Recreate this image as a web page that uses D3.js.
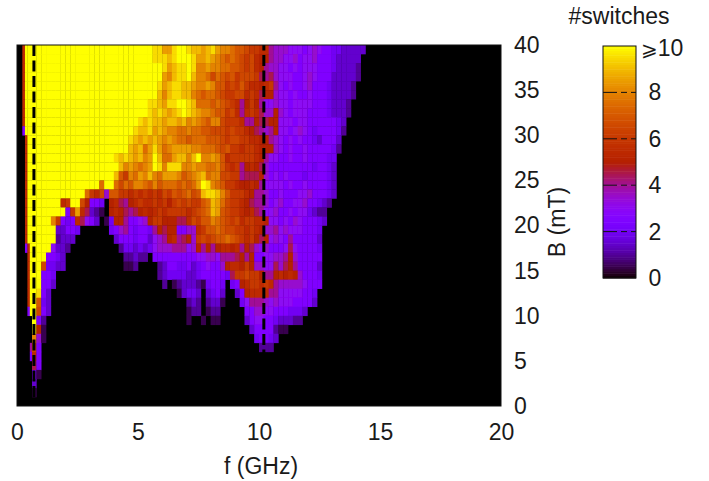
<!DOCTYPE html>
<html>
<head>
<meta charset="utf-8">
<script src="https://cdn.jsdelivr.net/npm/d3@7"></script>
<style>
  html, body { margin: 0; padding: 0; background: #fff; }
  text { font-family: "Liberation Sans", Arial, sans-serif; fill: #1a1a1a; }
</style>
</head>
<body>
<div id="chart"></div>
<script>
// cell values are #switches * 2 written in base 36 (0 = none, k = 10 or more)
// rows go from B = 39-40 mT (top) down to B = 0-1 mT
const z10 = '0000000000';

// the narrow cells below 0.62 GHz
const cellsEdge = [
  '0bkkk','0bkkk','0bkkk','0bkkk','0bkkk','0bkkk','0bkkk','0bkkk','0bkkk','05kkk',
  '00bkk','00bkk','00bkk','00bkk','00bkk','00bkk','00bkk','00bkk','00bkk','00bkk',
  '00bkk','00bkk','005bk','000bk','000bk','000bk','000bk','000bk','000bk','0005k',
  '00000','00000','00000','00008','00005','00000','00000','00000','00000','00000'
];

// 0.62 - 6.4 GHz
const cellsLow = [
  'kkkkkkkkkkkkkkkkkkkkkkkkkjjhh',
  'kkkkkkkkkkkkkkkkkkkkkkkkkjjji',
  'kkkkkkkkkkkkkkkkkkkkkkkkkkkjh',
  'kkkkkkkkkkkkkkkkkkkkkkkkkkkhg',
  'kkkkkkkkkkkkkkkkkkkkkkkkkkjhi',
  'kkkkkkkkkkkkkkkkkkkkkkkkkkigi',
  'kkkkkkkkkkkkkkkkkkkkkkkkjjihj',
  'kkkkkkkkkkkkkkkkkkkkkkkkjijih',
  'kkkkkkkkkkkkkkkkkkkkkkjijiihi',
  'kkkkkkkkkkkkkkkkkkkkkjiijhihg',
  'kkkkkkkkkkkkkkkkkkkkjihihihgh',
  'kkkkkkkkkkkkkkkkkkkkihifhjhfg',
  'kkkkkkkkkkkkkkkkkjijihighkiff',
  'kkkkkkkkkkkkkkkkkkighgfghkjgj',
  'kkkkkkkkkkkkkkkkkiecgfhgigfhh',
  'kkkkkkkkkkkkkkfkkfdfeggfegeff',
  'kkkkkkkkkkkfcbd7eeccbcbcbcbdc',
  'kkkkkkbckkda5540ab98abcbbcbca',
  'kkkkkkk5chb93210aba989ababcbc',
  'kkkkgc545b9653014aa85567accaa',
  'kkkkk33554' + '000000' + '4578545548a9a',
  'kkkkk2333' + '00000000' + '35554553678a',
  'kkkk6332' + z10 + '24434346777',
  'kkk5543' + z10 + '00' + '2232205555',
  'kkd4433' + z10 + '00' + '1120000235',
  'kk554' + z10 + z10 + '0' + '234',
  'kk553' + z10 + z10 + '00' + '20',
  'kj53',
  'ke43',
  'kd53',
  'k52',
  'ka1',
  'g71',
  'd5',
  'b5',
  '95',
  '51',
  '3',
  '1',
  ''
];

// 6.4 - 10.4 GHz
const cellsMid = [
  'jkkjiihijhggfeedccbb','jkkkjhhihgfefedcdbaa','ijjkjgghggffeedcdba8','ijjkiggfdfedecdddc98',
  'jjiihgghgeecdcecbbab','jjiigfeffedccddbcb9a','jkkjifffefedcb8aca86','ijkjihggfeecdb8bcb97',
  'ihighgfeggdcccb88a99','gffgffeedddcdccba987','gffefffeeedcddccbbaa','hhhhggfffedeccbccbaa',
  'hiigikgghgebcccccba8','jjgghggffgecbc8aba97','hgefghifggddcc8999a7','fefefhkjgfeccbaaba86',
  'edefdeijjigecccba887','cdcdccefihfdccba9887','cccbcdefihedccbab986','a99bdceegfedcdbccbba',
  'a5577bceefeddccbcba7','b89a7cdcdeefedcbca9a','88867a8a8abbab8a9767','55555667768889a8a556',
  '54453456557abbaca776','4443345555549ccdcca8','12333214554045abccbc','013443034530035abbbb',
  '00023202331000468887','00012201220000055776','00010010110000035665','00000000000000003555',
  '00000000000000000455','00000000000000000022','','','','','',''
];

// 10.4 - 14.4 GHz
const cellsHigh = [
  '87776665676554433333','8776675667555433333','7766565666555433332','9766655676555333332',
  'c86565567555433332','a76656556555433332','67665666655543332','7a765666555543332',
  'aa66656655555543','8a66567654555542','876565655435553','a76565565555542',
  '66556556555544','55555555545543','56565554555543','66656556555543',
  '55655566755543','5675566755432','675565664322','665657655543',
  '78676665554','67658555553','55569655554','6778a755555',
  '6979a855553','8ababa75554','b8777776555','8866666554',
  '6766655553','65554443','5433322','5211',
  '43','2','','','','','',''
];

const fTicks = [0, 5, 10, 15, 20];
const bTicks = [0, 5, 10, 15, 20, 25, 30, 35, 40];
const countTicks = [0, 2, 4, 6, 8, 10];
const markerFreqs = [0.7, 10.2];
const markerDashOffsets = [0, 5.5];

const width = 709;
const height = 481;
const plot = { left: 17, right: 501, top: 45, bottom: 406 };
const bar = { left: 603, right: 636, top: 46, bottom: 278 };
const fontSize = '23px';

// cell edges in GHz, narrow near zero then 0.2 GHz steps
const fEdges = [0, 0.22, 0.33, 0.43, 0.53, 0.62, ...d3.range(0.8, 20.01, 0.2)];

const x = d3.scaleLinear().domain([0, 20]).range([plot.left, plot.right]);
const y = d3.scaleLinear().domain([0, 40]).range([plot.bottom, plot.top]);
const yBar = d3.scaleLinear().domain([0, 10]).range([bar.bottom, bar.top]);

// gnuplot default palette (rgbformulae 7,5,15)
function palette(t) {
  const r = Math.sqrt(t);
  const g = t * t * t;
  const b = Math.max(Math.sin(2 * Math.PI * t), 0);
  return d3.rgb(r * 255, g * 255, b * 255).formatHex();
}
const color = d3.scaleSequential([0, 10], palette);

const svg = d3.select('#chart').append('svg')
  .attr('width', width)
  .attr('height', height)
  .style('display', 'block');

const defs = svg.append('defs');
defs.append('clipPath').attr('id', 'plot-clip')
  .append('rect')
  .attr('x', x(0))
  .attr('y', y(40))
  .attr('width', x(20) - x(0))
  .attr('height', y(0) - y(40));
defs.append('filter').attr('id', 'soft')
  .append('feGaussianBlur')
  .attr('stdDeviation', 0.55);

svg.append('rect')
  .attr('x', x(0))
  .attr('y', y(40))
  .attr('width', x(20) - x(0))
  .attr('height', y(0) - y(40))
  .attr('fill', '#000');

const cells = [];
cellsEdge.forEach((edge, j) => {
  const row = edge + cellsLow[j].padEnd(29, '0') + cellsMid[j].padEnd(20, '0') + cellsHigh[j];
  row.split('').forEach((c, i) => {
    cells.push({ i: i, b: 39 - j, v: parseInt(c, 36) / 2 });
  });
});

svg.append('g')
  .attr('clip-path', 'url(#plot-clip)')
  .append('g')
  .attr('filter', 'url(#soft)')
  .selectAll('rect')
  .data(cells.filter((d) => d.v > 0))
  .enter()
  .append('rect')
  .attr('x', (d) => x(fEdges[d.i]))
  .attr('y', (d) => y(d.b + 1))
  .attr('width', (d) => x(fEdges[d.i + 1]) - x(fEdges[d.i]) + 0.3)
  .attr('height', (d) => y(d.b) - y(d.b + 1) + 0.3)
  .attr('fill', (d) => color(d.v));

svg.append('g').selectAll('line')
  .data(markerFreqs)
  .enter()
  .append('line')
  .attr('x1', (d) => x(d))
  .attr('x2', (d) => x(d))
  .attr('y1', y(40))
  .attr('y2', y(0))
  .attr('stroke', '#000')
  .attr('stroke-width', 3)
  .attr('stroke-dasharray', '11,4.5')
  .attr('stroke-dashoffset', (d, i) => markerDashOffsets[i]);

svg.append('rect')
  .attr('x', x(0))
  .attr('y', y(40))
  .attr('width', x(20) - x(0))
  .attr('height', y(0) - y(40))
  .attr('fill', 'none')
  .attr('stroke', '#111')
  .attr('stroke-width', 1);

const xAxis = svg.append('g')
  .attr('transform', `translate(0,${plot.bottom})`)
  .call(d3.axisBottom(x).tickValues(fTicks).tickSize(0).tickPadding(18));
const yAxis = svg.append('g')
  .attr('transform', `translate(${plot.right},0)`)
  .call(d3.axisRight(y).tickValues(bTicks).tickSize(0).tickPadding(13));
[xAxis, yAxis].forEach((a) => {
  a.select('.domain').remove();
  a.selectAll('text').style('font-size', fontSize).style('font-family', '"Liberation Sans", Arial, sans-serif');
});

svg.append('text')
  .attr('x', 261)
  .attr('y', 474)
  .attr('text-anchor', 'middle')
  .style('font-size', fontSize)
  .text('f (GHz)');

svg.append('text')
  .attr('transform', 'translate(565,222) rotate(-90)')
  .attr('text-anchor', 'middle')
  .style('font-size', fontSize)
  .text('B (mT)');

svg.append('text')
  .attr('x', 619)
  .attr('y', 24)
  .attr('text-anchor', 'middle')
  .style('font-size', fontSize)
  .text('#switches');

// colour bar
const barSteps = d3.range(0, 10, 0.1);
svg.append('g').selectAll('rect')
  .data(barSteps)
  .enter()
  .append('rect')
  .attr('x', bar.left)
  .attr('y', (d) => yBar(d + 0.1))
  .attr('width', bar.right - bar.left)
  .attr('height', (d) => yBar(d) - yBar(d + 0.1) + 0.5)
  .attr('fill', (d) => color(d + 0.05));

svg.append('rect')
  .attr('x', bar.left)
  .attr('y', bar.top)
  .attr('width', bar.right - bar.left)
  .attr('height', bar.bottom - bar.top)
  .attr('fill', 'none')
  .attr('stroke', '#111')
  .attr('stroke-width', 1);

svg.append('g').selectAll('line')
  .data(countTicks.slice(1, 5))
  .enter()
  .append('line')
  .attr('x1', bar.left)
  .attr('x2', bar.right)
  .attr('y1', (d) => yBar(d))
  .attr('y2', (d) => yBar(d))
  .attr('stroke', '#111')
  .attr('stroke-width', 1)
  .attr('stroke-dasharray', '14,4,6,4,14');

svg.append('g').selectAll('text')
  .data(countTicks.slice(0, 5))
  .enter()
  .append('text')
  .attr('x', 655)
  .attr('y', (d) => yBar(d) + 8)
  .attr('text-anchor', 'middle')
  .style('font-size', fontSize)
  .text((d) => d);

const topLabel = svg.append('text')
  .attr('x', 641)
  .attr('y', yBar(10) + 10);
topLabel.append('tspan')
  .style('font-family', '"DejaVu Sans", sans-serif')
  .style('font-size', '20px')
  .text('\u2A7E');
topLabel.append('tspan')
  .style('font-size', fontSize)
  .text(countTicks[5]);
</script>
</body>
</html>
